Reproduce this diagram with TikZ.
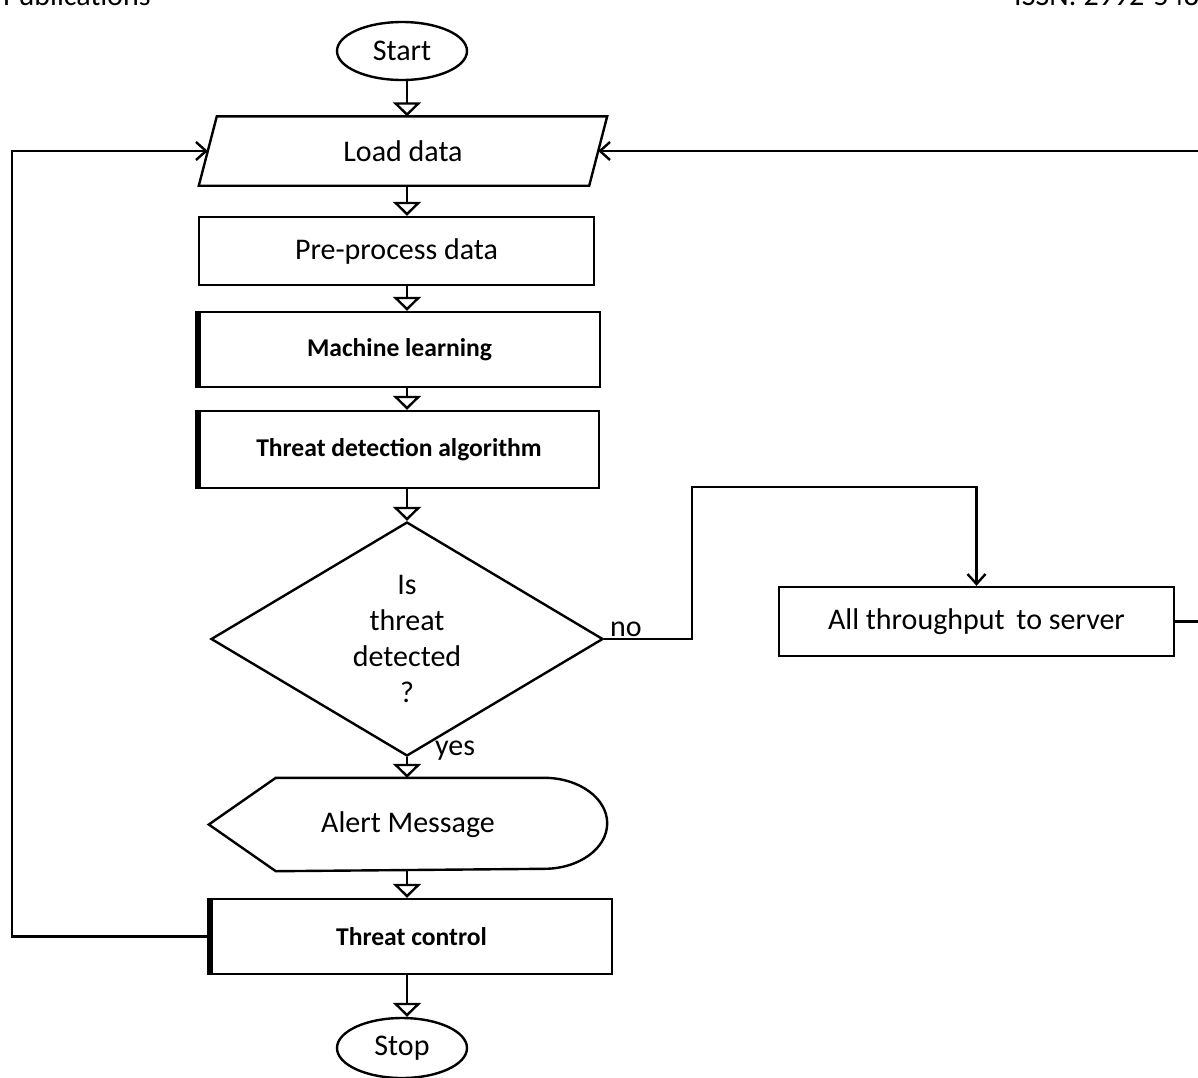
\documentclass[tikz,border=0pt]{standalone}
\usepackage{fontspec}
\setmainfont{Carlito}
\usetikzlibrary{shapes.geometric,arrows.meta}

\begin{document}
\begin{tikzpicture}[x=0.5pt,y=-0.5pt,line width=1.2pt]
\tikzstyle{every node}=[font=\fontsize{15}{18}\selectfont]
\tikzstyle{term}=[ellipse,draw,minimum width=65pt,minimum height=29pt,inner sep=0pt]
\tikzstyle{proc}=[rectangle,draw,inner sep=0pt]
\tikzstyle{boldproc}=[proc,font=\fontsize{12.8}{15}\selectfont\bfseries,minimum width=200.5pt,minimum height=37.5pt]
\tikzstyle{decide}=[diamond,draw,aspect=1.675,minimum width=196pt,minimum height=117pt,inner sep=0pt,align=center]
\tikzstyle{flow}=[-{Triangle[width=14pt,length=7pt,fill=white]}]
\tikzstyle{back}=[-{Straight Barb[length=5pt,width=9pt]}]
\useasboundingbox (0,0) rectangle (1198,1077);
\clip (0,0) rectangle (1198,1077);

% page header, cut off at the top
\node[anchor=base west,inner sep=0pt] (pub) at (2,5) {Publications};
\node[anchor=base west,inner sep=0pt] (issn) at (1013,5) {ISSN: 2992-548};

\node[term](start) at (402,51) {Start};
\node[minimum width=194pt,minimum height=33.5pt,inner sep=0pt](load) at (403,151) {Load data};
\node[proc,minimum width=197.5pt,minimum height=34pt](pre) at (396.5,251) {Pre-process data};
\node[boldproc](ml) at (399.5,349.5) {Machine learning};
\node[boldproc,minimum width=200pt,minimum height=38.5pt](td) at (399,449.5) {Threat detection algorithm};
\node[decide](dec) at (407,639) {Is\\threat\\detected\\?};
\node[minimum width=198pt,minimum height=45.5pt,inner sep=0pt](alert) at (408,824.5) {Alert Message};
\node[boldproc](tc) at (411.5,936.5) {Threat control};
\node[term,minimum height=30pt](stop) at (402,1048) {Stop};
\node[proc,minimum width=197.5pt,minimum height=34.5pt](srv) at (976.5,621.5) {All throughput\, to server};

\node[anchor=base west,inner sep=0pt](no) at (609,636) {no};
\node[anchor=base west,inner sep=0pt](yes) at (434,755) {yes};

% parallelogram round the input
\draw ([xshift=4.5pt]load.north west) -- ([xshift=4.5pt]load.north east)
  -- ([xshift=-4.5pt]load.south east) -- ([xshift=-4.5pt]load.south west) -- cycle;

% display shape round the alert
\draw (alert.west) -- ([xshift=33.5pt]alert.north west) -- ([xshift=-31.5pt]alert.north east)
  arc[start angle=90,end angle=-90,x radius=31.5pt,y radius=22.75pt]
  -- ([xshift=33.5pt]alert.south west) -- cycle;

% heavy left edges
\draw[line width=3pt] (ml.north west) -- (ml.south west);
\draw[line width=3pt] (td.north west) -- (td.south west);
\draw[line width=3pt] (tc.north west) -- (tc.south west);

\coordinate (axis) at (407,0);
\coordinate (bend) at (692,487);
\coordinate (rgt) at (1205,151);
\coordinate (lft) at (12,151);

\draw[flow] (start.south -| axis) -- (load.north -| axis);
\draw[flow] (load.south -| axis) -- (pre.north -| axis);
\draw[flow] (pre.south -| axis) -- (ml.north -| axis);
\draw[flow] (ml.south -| axis) -- (td.north -| axis);
\draw[flow] (td.south -| axis) -- (dec.north);
\draw[flow] (dec.south) -- (alert.north -| axis);
\draw[flow] (alert.south -| axis) -- (tc.north -| axis);
\draw[flow] (tc.south -| axis) -- (stop.north -| axis);

\draw[back] (dec.east) -| (bend) -| (srv.north);
\draw[back] (srv.east) -| (rgt) -- (load.east);
\draw[back] (tc.west) -| (lft) -- (load.west);
\end{tikzpicture}
\end{document}
